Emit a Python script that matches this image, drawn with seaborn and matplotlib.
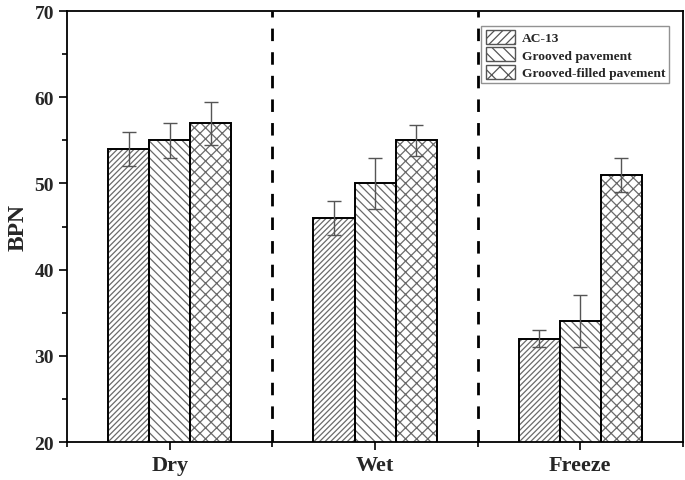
import matplotlib
matplotlib.use("Agg")
import matplotlib.pyplot as plt
import seaborn as sns
import pandas as pd
import numpy as np
from matplotlib.patches import Patch, Rectangle
from matplotlib.ticker import MultipleLocator, FixedLocator

conditions = ["Dry", "Wet", "Freeze"]
series = ["AC-13", "Grooved pavement", "Grooved-filled pavement"]
ac13 = [54, 46, 32]
grooved = [55, 50, 34]
filled = [57, 55, 51]
ac13_err = [2, 2, 1]
grooved_err = [2, 3, 3]
filled_err = [2.5, 1.8, 2]
hatches = ["//////", "\\\\\\\\", "xxx"]

sns.set_theme(style="white")
plt.rcParams["font.family"] = ["Liberation Serif", "DejaVu Serif"]
plt.rcParams["font.weight"] = "bold"
plt.rcParams["hatch.linewidth"] = 0.9

rows = []
for s, vals in zip(series, [ac13, grooved, filled]):
    for c, v in zip(conditions, vals):
        rows.append({"Condition": c, "Series": s, "BPN": v})
df = pd.DataFrame(rows)
errs = [ac13_err, grooved_err, filled_err]

fig = plt.figure(figsize=(6.85, 4.81), dpi=100)
ax = fig.add_axes([0.098, 0.079, 0.899, 0.896])

sns.barplot(data=df, x="Condition", y="BPN", hue="Series", order=conditions,
            hue_order=series, width=0.6, errorbar=None, ax=ax,
            color="white", edgecolor="#666666", linewidth=0, legend=False)

hatch_grey = "#6a6a6a"
for cont, h, e in zip(ax.containers, hatches, errs):
    xs, ys = [], []
    for bar in cont:
        bar.set_facecolor("white")
        bar.set_edgecolor(hatch_grey)
        bar.set_linewidth(0)
        bar.set_hatch(h)
        outline = Rectangle(bar.get_xy(), bar.get_width(), bar.get_height(),
                            fill=False, edgecolor="black", linewidth=1.4, zorder=3)
        ax.add_patch(outline)
        xs.append(bar.get_x() + bar.get_width() / 2)
        ys.append(bar.get_height())
    ax.errorbar(xs, ys, yerr=e, fmt="none", ecolor="#555555", elinewidth=1.0,
                capsize=5, capthick=1.0, zorder=5)

for xv in [0.5, 1.5]:
    ax.axvline(xv, color="black", lw=2, ls=(0, (4.5, 4)), zorder=1)

ax.set_xlim(-0.5, 2.5)
ax.set_ylim(20, 70)
ax.yaxis.set_major_locator(MultipleLocator(10))
ax.yaxis.set_minor_locator(MultipleLocator(5))
ax.xaxis.set_minor_locator(FixedLocator([-0.5, 0.5, 1.5, 2.5]))
ax.tick_params(axis="both", which="major", direction="out", length=6, width=1.2,
               labelsize=14, color="black", bottom=True, left=True)
ax.tick_params(axis="both", which="minor", direction="out", length=3.5, width=1.2,
               color="black", bottom=True, left=True)
ax.set_xlabel("")
ax.set_ylabel("BPN", fontsize=17, fontweight="bold")
for lab in ax.get_xticklabels() + ax.get_yticklabels():
    lab.set_fontweight("bold")
for lab in ax.get_xticklabels():
    lab.set_fontsize(16)
for sp in ax.spines.values():
    sp.set_visible(True)
    sp.set_color("black")
    sp.set_linewidth(1.3)

handles = [Patch(facecolor="white", edgecolor="#555555", hatch=h, label=s)
           for h, s in zip(["////", "\\\\\\", "xx"], series)]
leg = ax.legend(handles=handles, loc="upper right", bbox_to_anchor=(0.989, 0.982),
                prop={"size": 9.7, "weight": "bold"}, frameon=True, fancybox=False,
                edgecolor="#777777", handlelength=2.2, handleheight=1.25,
                borderpad=0.3, labelspacing=0.22, handletextpad=0.5)
leg.get_frame().set_linewidth(1.0)

fig.savefig("out.png", dpi=100)
